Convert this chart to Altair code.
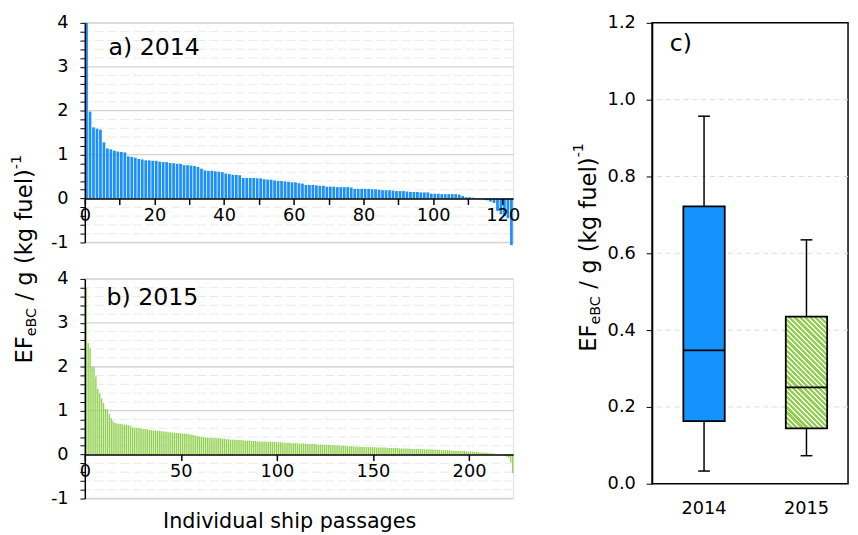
import math
import altair as alt
import pandas as pd

FONT = "DejaVu Sans"

# ---------------- data ----------------
a_values = [4.0, 1.98, 1.62, 1.59, 1.57, 1.28, 1.14, 1.12, 1.09, 1.07,
            1.06, 1.05, 0.96, 0.95, 0.93, 0.90, 0.89, 0.87, 0.87, 0.86,
            0.86, 0.84, 0.83, 0.83, 0.81, 0.80, 0.79, 0.79, 0.76, 0.76,
            0.75, 0.74, 0.72, 0.68, 0.64, 0.63, 0.63, 0.62, 0.61, 0.60,
            0.57, 0.56, 0.54, 0.54, 0.53, 0.47, 0.47, 0.47, 0.47, 0.46,
            0.46, 0.44, 0.43, 0.43, 0.41, 0.40, 0.40, 0.39, 0.38, 0.37,
            0.37, 0.35, 0.34, 0.31, 0.31, 0.31, 0.30, 0.29, 0.29, 0.27,
            0.27, 0.27, 0.26, 0.26, 0.26, 0.26, 0.25, 0.22, 0.22, 0.22,
            0.22, 0.22, 0.21, 0.21, 0.20, 0.19, 0.19, 0.19, 0.18, 0.17,
            0.17, 0.17, 0.16, 0.15, 0.15, 0.15, 0.14, 0.14, 0.14, 0.11,
            0.11, 0.11, 0.10, 0.10, 0.10, 0.10, 0.10, 0.09, 0.06, 0.03,
            0.03, 0.02, 0.01, 0.01, -0.02, -0.04, -0.07, -0.10, -0.28, -0.36,
            -0.40, -0.45, -1.06]

b_values = [3.80, 2.54, 2.43, 2.00, 1.99, 1.78, 1.50, 1.39, 1.28, 1.17,
            1.04, 1.03, 0.92, 0.83, 0.76, 0.72, 0.71, 0.70, 0.70, 0.69,
            0.68, 0.68, 0.67, 0.65, 0.62, 0.61, 0.61, 0.60, 0.60, 0.59,
            0.58, 0.58, 0.57, 0.56, 0.56, 0.55, 0.55, 0.54, 0.54, 0.53,
            0.53, 0.52, 0.52, 0.51, 0.51, 0.50, 0.50, 0.49, 0.49, 0.49,
            0.48, 0.48, 0.47, 0.47, 0.46, 0.45, 0.44, 0.43, 0.42, 0.41,
            0.40, 0.40, 0.39, 0.39, 0.39, 0.38, 0.38, 0.38, 0.37, 0.37,
            0.37, 0.36, 0.36, 0.35, 0.35, 0.34, 0.34, 0.34, 0.33, 0.33,
            0.33, 0.33, 0.32, 0.32, 0.32, 0.32, 0.31, 0.31, 0.31, 0.30,
            0.30, 0.30, 0.30, 0.30, 0.29, 0.29, 0.29, 0.29, 0.29, 0.28,
            0.28, 0.28, 0.28, 0.27, 0.27, 0.27, 0.27, 0.26, 0.26, 0.26,
            0.26, 0.25, 0.25, 0.25, 0.25, 0.24, 0.24, 0.24, 0.24, 0.24,
            0.23, 0.23, 0.23, 0.23, 0.22, 0.22, 0.22, 0.22, 0.21, 0.21,
            0.21, 0.21, 0.20, 0.20, 0.20, 0.20, 0.19, 0.19, 0.19, 0.19,
            0.18, 0.18, 0.18, 0.18, 0.18, 0.17, 0.17, 0.17, 0.17, 0.17,
            0.17, 0.16, 0.16, 0.16, 0.16, 0.16, 0.16, 0.15, 0.15, 0.15,
            0.15, 0.15, 0.15, 0.14, 0.14, 0.14, 0.14, 0.14, 0.14, 0.13,
            0.13, 0.13, 0.13, 0.13, 0.13, 0.12, 0.12, 0.12, 0.12, 0.12,
            0.12, 0.11, 0.11, 0.11, 0.11, 0.10, 0.10, 0.10, 0.10, 0.10,
            0.09, 0.09, 0.09, 0.09, 0.08, 0.08, 0.08, 0.08, 0.07, 0.07,
            0.07, 0.07, 0.06, 0.06, 0.06, 0.05, 0.05, 0.05, 0.04, 0.04,
            0.03, 0.03, 0.02, 0.01, 0.01, 0.00, -0.01, -0.02, -0.03, -0.05,
            -0.08, -0.18, -0.42]

box_years = ["2014", "2015"]
box_low = [0.033, 0.073]
box_q1 = [0.163, 0.144]
box_median = [0.347, 0.251]
box_q3 = [0.722, 0.435]
box_high = [0.957, 0.635]

a_x_ticks = [0, 10, 20, 30, 40, 50, 60, 70, 80, 90, 100, 110, 120]
b_x_ticks = [0, 50, 100, 150, 200]
ab_y_ticks = [-1.0, -0.8, -0.6, -0.4, -0.2, 0.0, 0.2, 0.4, 0.6, 0.8, 1.0, 1.2, 1.4,
              1.6, 1.8, 2.0, 2.2, 2.4, 2.6, 2.8, 3.0, 3.2, 3.4, 3.6, 3.8, 4.0]
ab_major_grid = [-1, 1, 2, 3, 4]
ab_minor_grid = [-0.8, -0.6, -0.4, -0.2, 0.2, 0.4, 0.6, 0.8, 1.2, 1.4, 1.6, 1.8,
                 2.2, 2.4, 2.6, 2.8, 3.2, 3.4, 3.6, 3.8]
c_y_ticks = [0.0, 0.2, 0.4, 0.6, 0.8, 1.0, 1.2]
c_y_grid = [0.2, 0.4, 0.6, 0.8, 1.0]

# ---------------- layout ----------------
W_AB, H_AB = 435, 223
W_C, H_C = 199, 468
AB_DOM = [-1, 4]
BLUE = "#1a8fff"
GREEN = "#92d050"
TICK_FS = 18

# approximate DejaVu Sans advance widths (em)
CW = {"E": .632, "F": .575, "e": .615, "B": .686, "C": .698, " ": .318, "/": .337,
      "g": .635, "(": .390, "k": .579, "f": .352, "u": .634, "l": .278, ")": .390,
      "-": .361, "1": .636}


def tw(s, size):
    return sum(CW.get(ch, 0.6) for ch in s) * size


def ytitle_layers(x, y, sup_dy, main=23, small=14.5):
    # (text, size, baseline shift, leading space width)
    pieces = [("EF", main, 0, 0), ("eBC", small, 4, 0), ("/ g (kg fuel)", main, 0, CW[" "] * main),
              ("-1", small, sup_dy, 0)]
    layers, off = [], 0.0
    for txt, size, dy, lead in pieces:
        off += lead
        layers.append(
            alt.Chart(pd.DataFrame({"t": [txt]}))
            .mark_text(align="left", baseline="alphabetic", angle=270, fontSize=size,
                       font=FONT, color="black", dx=round(off, 2), dy=dy)
            .encode(text="t:N", x=alt.value(x), y=alt.value(y))
        )
        off += tw(txt, size)
    return layers


def bar_panel(values, n_dom, xticks, label_every, color, start, stop, label, lx, ly, extra):
    df = pd.DataFrame({"idx": list(range(len(values))), "v": values})
    ys = alt.Scale(domain=AB_DOM, nice=False, zero=False)
    xs = alt.Scale(domain=[0, n_dom], nice=False, zero=False)
    off = -H_AB * (0 - AB_DOM[0]) / (AB_DOM[1] - AB_DOM[0])
    y_axis = alt.Axis(values=ab_y_ticks,
                      labelExpr="abs(datum.value - round(datum.value)) < 0.001 ? '' + round(datum.value) : ''",
                      domainColor="black", domainWidth=1.5, tickColor="black", tickWidth=1,
                      tickSize=5, labelFontSize=TICK_FS, labelPadding=12, labelFont=FONT,
                      labelColor="black", grid=False, title=None, zindex=1,
                      labelOverlap=False, labelFlush=False)
    x_axis = alt.Axis(values=xticks,
                      labelExpr=f"datum.value % {label_every} === 0 ? datum.label : ''",
                      offset=off, domainColor="black", domainWidth=1.5, tickColor="black",
                      tickWidth=1.5, tickSize=6, labelFontSize=TICK_FS, labelPadding=2,
                      labelFont=FONT, labelColor="black", grid=False, title=None,
                      zindex=1, labelFlush=False, labelOverlap=False)
    minor = alt.Chart(pd.DataFrame({"g": ab_minor_grid})).mark_rule(
        color="#e9e9e9", strokeDash=[9, 4], strokeWidth=1).encode(
        y=alt.Y("g:Q", scale=ys, axis=y_axis))
    major = alt.Chart(pd.DataFrame({"g": ab_major_grid})).mark_rule(
        color="#d2d2d2", strokeWidth=1.3).encode(y=alt.Y("g:Q", scale=ys, axis=y_axis))
    bars = alt.Chart(df).transform_calculate(
        x1=f"datum.idx + {start}", x2=f"datum.idx + {stop}").mark_bar(
        color=color).encode(
        x=alt.X("x1:Q", scale=xs, axis=x_axis),
        x2="x2:Q",
        y=alt.Y("v:Q", scale=ys, axis=y_axis),
        y2=alt.datum(0),
    )
    lab = alt.Chart(pd.DataFrame({"t": [label]})).mark_text(
        align="left", baseline="alphabetic", fontSize=24, font=FONT, color="black").encode(
        text="t:N", x=alt.value(lx), y=alt.value(ly))
    return alt.layer(minor, major, bars, lab, *extra).properties(width=W_AB, height=H_AB)


# left shared y title and x title
left_title = ytitle_layers(-54, 346, -11)
x_title = [alt.Chart(pd.DataFrame({"t": ["Individual ship passages"]})).mark_text(
    align="center", baseline="alphabetic", fontSize=21, font=FONT, color="black").encode(
    text="t:N", x=alt.value(208), y=alt.value(253))]

panel_a = bar_panel(a_values, 123, a_x_ticks, 20, BLUE, 0.1, 0.88, "a) 2014", 24, 33, left_title)
panel_b = bar_panel(b_values, 223, b_x_ticks, 50, GREEN, 0.4, 1.1, "b) 2015", 22, 27, x_title)

# ---------------- panel c: box plot ----------------
df_box = pd.DataFrame({"year": box_years, "low": box_low, "q1": box_q1, "med": box_median,
                       "q3": box_q3, "high": box_high})
STEP_C = 104.0
P_IN = 0.596
P_OUT = (W_C / STEP_C - (len(box_years) - P_IN)) / 2
xc = alt.Scale(domain=box_years, paddingInner=P_IN, paddingOuter=round(P_OUT, 4), align=0.6)
yc = alt.Scale(domain=[0, 1.2], nice=False, zero=False)
bw = STEP_C * (1 - P_IN)

c_x_axis = alt.Axis(labelAngle=0, ticks=False, domain=False, labelFontSize=TICK_FS, labelPadding=16,
                    labelFont=FONT, labelColor="black", title=None)
c_y_axis = alt.Axis(values=c_y_ticks, format=".1f", domainColor="black", domainWidth=1.5,
                    tickColor="black", tickWidth=1, tickSize=6, labelFontSize=TICK_FS, labelPadding=11,
                    labelFont=FONT, labelColor="black", title=None, grid=False, zindex=1)

# hatch (diagonal white stripes) as a hard-stop linear gradient
gw = bw
gh = (box_q3[1] - box_q1[1]) * H_C / 1.2
k = (gw + gh) / (gw ** 2 + gh ** 2)
span = (gw + gh) / math.sqrt(2)
period = 3.7
stops = []
i = 0
while i * period < span:
    o0 = i * period / span
    o1 = min(1.0, (i * period + period * 0.62) / span)
    o2 = min(1.0, (i + 1) * period / span)
    stops += [{"offset": round(o0, 5), "color": GREEN}, {"offset": round(o1, 5), "color": GREEN},
              {"offset": round(o1, 5), "color": "#f4faee"}, {"offset": round(o2, 5), "color": "#f4faee"}]
    i += 1
hatch = {"gradient": "linear", "x1": 0, "y1": 1, "x2": round(gw * k, 5), "y2": round(1 - gh * k, 5),
         "stops": stops}

grid_c = alt.Chart(pd.DataFrame({"g": c_y_grid})).mark_rule(
    color="#d9d9d9", strokeDash=[5, 4], strokeWidth=1).encode(
    y=alt.Y("g:Q", scale=yc, axis=c_y_axis))
base = alt.Chart(df_box)
whisk = base.mark_rule(color="black", strokeWidth=1.5).encode(
    x=alt.X("year:N", scale=xc, axis=c_x_axis), y=alt.Y("low:Q", scale=yc, axis=c_y_axis), y2="high:Q")
cap_lo = base.mark_tick(color="black", size=12, thickness=1.5, opacity=1).encode(
    x=alt.X("year:N", scale=xc, axis=c_x_axis), y=alt.Y("low:Q", scale=yc, axis=c_y_axis))
cap_hi = base.mark_tick(color="black", size=12, thickness=1.5, opacity=1).encode(
    x=alt.X("year:N", scale=xc, axis=c_x_axis), y=alt.Y("high:Q", scale=yc, axis=c_y_axis))
box14 = base.transform_filter("datum.year == '2014'").mark_bar(
    fill="#1493ff", stroke="black", strokeWidth=1.8, opacity=1).encode(
    x=alt.X("year:N", scale=xc, axis=c_x_axis), y=alt.Y("q1:Q", scale=yc, axis=c_y_axis), y2="q3:Q")
box15 = base.transform_filter("datum.year == '2015'").mark_bar(
    fill=hatch, stroke="black", strokeWidth=1.8, opacity=1).encode(
    x=alt.X("year:N", scale=xc, axis=c_x_axis), y=alt.Y("q1:Q", scale=yc, axis=c_y_axis), y2="q3:Q")
med = base.mark_tick(color="black", size=bw, thickness=1.8, opacity=1).encode(
    x=alt.X("year:N", scale=xc, axis=c_x_axis), y=alt.Y("med:Q", scale=yc, axis=c_y_axis))
c_lab = alt.Chart(pd.DataFrame({"t": ["c)"]})).mark_text(
    align="left", baseline="alphabetic", fontSize=24, font=FONT, color="black").encode(
    text="t:N", x=alt.value(18), y=alt.value(29))

panel_c = alt.layer(grid_c, whisk, cap_lo, cap_hi, box14, box15, med, c_lab,
                    *ytitle_layers(-57, 334, -13)).properties(
    width=W_C, height=H_C, view=alt.ViewBackground(stroke="black", strokeWidth=1.5))

left = alt.vconcat(panel_a, panel_b, spacing=37, bounds="flush")
chart = alt.hconcat(left, panel_c, spacing=50).properties(
    padding={"left": 0, "top": 1, "right": 0, "bottom": 0}
).configure_view(strokeWidth=0).configure(font=FONT).configure_axis(labelOverlap=False)

chart.save("out.html", embed_options={"renderer": "svg", "actions": False})
